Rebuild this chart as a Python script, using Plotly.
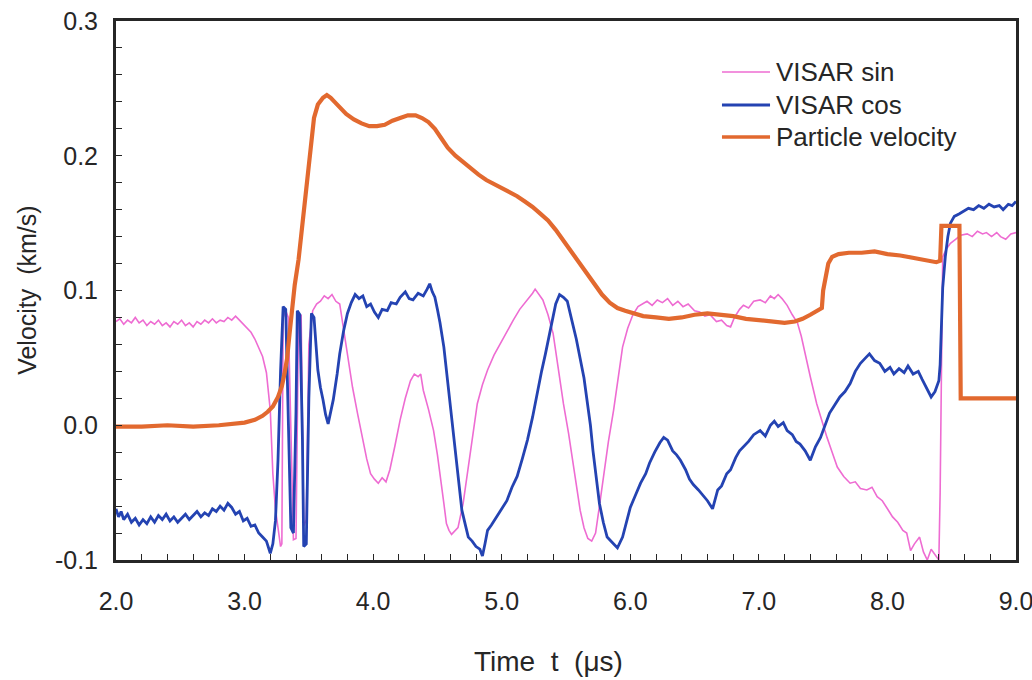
import plotly.graph_objects as go

# ---------------- data ----------------
sin_t = [2.00, 2.03, 2.06, 2.09, 2.12, 2.15, 2.18, 2.21, 2.24, 2.27, 2.30, 2.33, 2.36, 2.39, 2.42, 2.45,
         2.48, 2.51, 2.54, 2.57, 2.60, 2.63, 2.66, 2.69, 2.72, 2.75, 2.78, 2.81, 2.84, 2.87, 2.90, 2.93,
         2.96, 2.99, 3.02, 3.05, 3.08, 3.11, 3.14, 3.17, 3.20, 3.22, 3.24, 3.26, 3.28, 3.29, 3.30, 3.32,
         3.34, 3.38, 3.40, 3.42, 3.44, 3.46, 3.48, 3.50, 3.53, 3.56, 3.59, 3.62, 3.65, 3.68, 3.71, 3.74,
         3.76, 3.78, 3.81, 3.84, 3.88, 3.92, 3.95, 3.98, 4.01, 4.04, 4.07, 4.10, 4.13, 4.17, 4.21, 4.25,
         4.29, 4.32, 4.35, 4.37, 4.39, 4.43, 4.47, 4.50, 4.52, 4.55, 4.57, 4.59, 4.61, 4.64, 4.66, 4.70,
         4.73, 4.77, 4.81, 4.85, 4.89, 4.94, 4.99, 5.04, 5.09, 5.14, 5.20, 5.24, 5.26, 5.29, 5.32, 5.36,
         5.40, 5.44, 5.48, 5.52, 5.55, 5.58, 5.61, 5.64, 5.67, 5.70, 5.73, 5.76, 5.79, 5.83, 5.87, 5.91,
         5.94, 5.98, 6.02, 6.06, 6.10, 6.13, 6.17, 6.21, 6.25, 6.29, 6.33, 6.37, 6.41, 6.45, 6.50, 6.54,
         6.58, 6.62, 6.67, 6.71, 6.75, 6.78, 6.81, 6.85, 6.88, 6.92, 6.96, 7.01, 7.05, 7.09, 7.12, 7.15,
         7.18, 7.22, 7.26, 7.30, 7.33, 7.36, 7.40, 7.45, 7.49, 7.53, 7.57, 7.61, 7.66, 7.71, 7.75, 7.79,
         7.84, 7.88, 7.92, 7.96, 8.00, 8.04, 8.08, 8.12, 8.15, 8.18, 8.21, 8.25, 8.28, 8.31, 8.34, 8.37,
         8.40, 8.41, 8.42, 8.43, 8.46, 8.49, 8.53, 8.57, 8.62, 8.66, 8.70, 8.74, 8.77, 8.81, 8.85, 8.88,
         8.92, 8.96, 9.00]
sin_v = [0.077, 0.079, 0.075, 0.078, 0.076, 0.080, 0.076, 0.078, 0.074, 0.077, 0.075, 0.078, 0.074, 0.076, 0.073, 0.077,
         0.075, 0.078, 0.074, 0.076, 0.073, 0.077, 0.075, 0.078, 0.076, 0.079, 0.076, 0.078, 0.077, 0.080, 0.078, 0.081,
         0.078, 0.075, 0.072, 0.069, 0.064, 0.058, 0.051, 0.039, 0.011, -0.036, -0.062, -0.076, -0.090, -0.088, 0.080, 0.085,
         0.080, -0.085, -0.084, 0.080, 0.082, -0.075, -0.070, 0.060, 0.085, 0.090, 0.092, 0.096, 0.094, 0.097, 0.092, 0.090,
         0.078, 0.065, 0.046, 0.028, 0.008, -0.011, -0.025, -0.036, -0.040, -0.043, -0.039, -0.042, -0.033, -0.015, 0.004, 0.020,
         0.033, 0.038, 0.036, 0.038, 0.026, 0.012, -0.004, -0.022, -0.038, -0.058, -0.073, -0.078, -0.081, -0.078, -0.076, -0.058,
         -0.038, -0.010, 0.016, 0.030, 0.041, 0.052, 0.061, 0.070, 0.078, 0.086, 0.093, 0.098, 0.101, 0.097, 0.093, 0.082,
         0.068, 0.042, 0.016, -0.006, -0.024, -0.045, -0.063, -0.076, -0.084, -0.086, -0.080, -0.060, -0.038, -0.012, 0.011, 0.038,
         0.058, 0.072, 0.082, 0.088, 0.090, 0.092, 0.089, 0.093, 0.091, 0.094, 0.089, 0.092, 0.088, 0.090, 0.085, 0.084,
         0.081, 0.082, 0.077, 0.078, 0.074, 0.073, 0.080, 0.086, 0.089, 0.087, 0.092, 0.093, 0.091, 0.096, 0.094, 0.097,
         0.094, 0.089, 0.082, 0.076, 0.066, 0.052, 0.036, 0.016, 0.003, -0.009, -0.020, -0.031, -0.038, -0.043, -0.042, -0.047,
         -0.048, -0.046, -0.053, -0.056, -0.062, -0.068, -0.072, -0.078, -0.080, -0.093, -0.088, -0.083, -0.094, -0.100, -0.092, -0.096,
         -0.100, -0.050, 0.060, 0.125, 0.131, 0.135, 0.138, 0.141, 0.142, 0.140, 0.144, 0.142, 0.143, 0.140, 0.143, 0.140,
         0.138, 0.142, 0.143]

cos_t = [2.00, 2.02, 2.04, 2.06, 2.09, 2.12, 2.15, 2.18, 2.21, 2.24, 2.27, 2.30, 2.33, 2.36, 2.39, 2.42,
         2.45, 2.48, 2.51, 2.54, 2.57, 2.60, 2.63, 2.66, 2.69, 2.72, 2.75, 2.78, 2.81, 2.84, 2.87, 2.90,
         2.93, 2.96, 2.99, 3.02, 3.05, 3.08, 3.11, 3.14, 3.17, 3.20, 3.22, 3.24, 3.26, 3.28, 3.30, 3.32,
         3.34, 3.36, 3.38, 3.40, 3.41, 3.43, 3.45, 3.46, 3.48, 3.50, 3.52, 3.54, 3.57, 3.59, 3.61, 3.63,
         3.65, 3.67, 3.69, 3.72, 3.74, 3.77, 3.80, 3.83, 3.86, 3.89, 3.92, 3.95, 3.98, 4.01, 4.04, 4.07,
         4.11, 4.14, 4.18, 4.21, 4.25, 4.28, 4.31, 4.35, 4.39, 4.42, 4.44, 4.46, 4.48, 4.50, 4.52, 4.55,
         4.57, 4.59, 4.61, 4.63, 4.65, 4.67, 4.69, 4.72, 4.74, 4.77, 4.80, 4.83, 4.85, 4.87, 4.89, 4.92,
         4.96, 5.00, 5.04, 5.08, 5.12, 5.16, 5.20, 5.24, 5.27, 5.31, 5.34, 5.37, 5.39, 5.42, 5.45, 5.48,
         5.51, 5.53, 5.55, 5.58, 5.61, 5.64, 5.66, 5.69, 5.71, 5.74, 5.76, 5.79, 5.82, 5.86, 5.90, 5.94,
         5.97, 6.00, 6.04, 6.08, 6.12, 6.15, 6.19, 6.23, 6.26, 6.29, 6.33, 6.36, 6.39, 6.43, 6.46, 6.49,
         6.53, 6.57, 6.60, 6.64, 6.66, 6.68, 6.71, 6.75, 6.78, 6.82, 6.85, 6.88, 6.92, 6.96, 7.01, 7.05,
         7.09, 7.12, 7.15, 7.19, 7.22, 7.26, 7.29, 7.32, 7.36, 7.40, 7.44, 7.48, 7.52, 7.55, 7.59, 7.63,
         7.67, 7.71, 7.75, 7.79, 7.83, 7.86, 7.90, 7.94, 7.98, 8.02, 8.05, 8.09, 8.13, 8.16, 8.20, 8.24,
         8.27, 8.31, 8.34, 8.37, 8.40, 8.41, 8.42, 8.43, 8.45, 8.47, 8.49, 8.52, 8.56, 8.60, 8.63, 8.67,
         8.71, 8.75, 8.79, 8.83, 8.87, 8.90, 8.94, 8.97, 9.00]
cos_v = [-0.062, -0.068, -0.064, -0.070, -0.066, -0.072, -0.069, -0.074, -0.070, -0.073, -0.068, -0.072, -0.067, -0.070, -0.066, -0.071,
         -0.068, -0.072, -0.069, -0.066, -0.070, -0.067, -0.064, -0.068, -0.065, -0.067, -0.062, -0.064, -0.060, -0.063, -0.058, -0.061,
         -0.066, -0.064, -0.071, -0.069, -0.075, -0.074, -0.080, -0.083, -0.086, -0.095, -0.088, -0.071, -0.026, 0.040, 0.088, 0.086,
         0.010, -0.076, -0.080, 0.010, 0.085, 0.082, -0.010, -0.090, -0.088, 0.020, 0.083, 0.080, 0.041, 0.028, 0.019, 0.008,
         0.001, 0.010, 0.019, 0.038, 0.053, 0.070, 0.083, 0.091, 0.097, 0.094, 0.096, 0.088, 0.090, 0.084, 0.080, 0.086,
         0.085, 0.091, 0.090, 0.095, 0.099, 0.094, 0.093, 0.098, 0.096, 0.101, 0.105, 0.099, 0.095, 0.086, 0.076, 0.058,
         0.041, 0.025, 0.009, -0.010, -0.028, -0.046, -0.063, -0.075, -0.083, -0.086, -0.090, -0.092, -0.097, -0.088, -0.078, -0.074,
         -0.068, -0.062, -0.056, -0.046, -0.038, -0.025, -0.011, 0.006, 0.021, 0.040, 0.053, 0.068, 0.078, 0.090, 0.097, 0.095,
         0.092, 0.085, 0.076, 0.064, 0.050, 0.035, 0.021, 0.000, -0.019, -0.040, -0.058, -0.072, -0.083, -0.087, -0.091, -0.083,
         -0.072, -0.061, -0.052, -0.043, -0.036, -0.028, -0.020, -0.013, -0.009, -0.011, -0.019, -0.022, -0.026, -0.033, -0.040, -0.044,
         -0.048, -0.053, -0.056, -0.062, -0.055, -0.048, -0.045, -0.036, -0.033, -0.024, -0.019, -0.016, -0.012, -0.007, -0.004, -0.008,
         0.000, 0.003, -0.001, 0.002, -0.004, -0.007, -0.012, -0.014, -0.019, -0.026, -0.016, -0.009, 0.002, 0.009, 0.015, 0.021,
         0.025, 0.031, 0.040, 0.046, 0.050, 0.053, 0.048, 0.046, 0.040, 0.043, 0.038, 0.042, 0.039, 0.044, 0.038, 0.040,
         0.034, 0.027, 0.021, 0.025, 0.033, 0.045, 0.071, 0.102, 0.125, 0.140, 0.150, 0.155, 0.157, 0.159, 0.161, 0.160,
         0.163, 0.161, 0.164, 0.162, 0.163, 0.160, 0.164, 0.163, 0.166]

pv_t = [2.00, 2.20, 2.40, 2.60, 2.80, 2.90, 3.00, 3.08, 3.14, 3.18, 3.22, 3.26, 3.29, 3.31, 3.33, 3.35,
        3.37, 3.39, 3.42, 3.45, 3.48, 3.51, 3.54, 3.57, 3.61, 3.64, 3.67, 3.70, 3.74, 3.79, 3.85, 3.91,
        3.97, 4.03, 4.09, 4.15, 4.21, 4.27, 4.33, 4.38, 4.43, 4.48, 4.53, 4.58, 4.64, 4.70, 4.76, 4.82,
        4.88, 4.94, 5.00, 5.06, 5.12, 5.18, 5.24, 5.30, 5.36, 5.42, 5.48, 5.54, 5.60, 5.66, 5.72, 5.78,
        5.84, 5.90, 5.96, 6.02, 6.10, 6.20, 6.30, 6.40, 6.50, 6.60, 6.70, 6.80, 6.90, 7.00, 7.10, 7.20,
        7.28, 7.34, 7.40, 7.46, 7.49, 7.50, 7.52, 7.54, 7.57, 7.62, 7.70, 7.80, 7.90, 8.00, 8.10, 8.20,
        8.30, 8.38, 8.41, 8.42, 8.56, 8.57, 9.00]
pv_v = [-0.001, -0.001, 0.000, -0.001, 0.000, 0.001, 0.002, 0.004, 0.007, 0.010, 0.014, 0.021, 0.029, 0.038, 0.049, 0.068,
        0.088, 0.104, 0.123, 0.150, 0.180, 0.208, 0.228, 0.238, 0.243, 0.245, 0.243, 0.240, 0.236, 0.231, 0.227, 0.224,
        0.222, 0.222, 0.223, 0.226, 0.228, 0.230, 0.230, 0.228, 0.225, 0.220, 0.213, 0.206, 0.200, 0.195, 0.190, 0.186,
        0.182, 0.179, 0.176, 0.173, 0.170, 0.166, 0.162, 0.157, 0.152, 0.145, 0.137, 0.129, 0.120, 0.112, 0.104, 0.097,
        0.091, 0.087, 0.085, 0.083, 0.081, 0.080, 0.079, 0.080, 0.082, 0.083, 0.082, 0.081, 0.079, 0.078, 0.077, 0.076,
        0.077, 0.079, 0.082, 0.085, 0.087, 0.100, 0.112, 0.120, 0.125, 0.127, 0.128, 0.128, 0.129, 0.127, 0.126, 0.124,
        0.122, 0.121, 0.122, 0.148, 0.148, 0.020, 0.020]

series_names = ["VISAR sin", "VISAR cos", "Particle velocity"]
series_colors = ["#EE6CD2", "#2443B2", "#E2692F"]
series_widths = [1.6, 2.8, 4.2]
x_ticks = [2.0, 3.0, 4.0, 5.0, 6.0, 7.0, 8.0, 9.0]
x_tick_labels = ["2.0", "3.0", "4.0", "5.0", "6.0", "7.0", "8.0", "9.0"]
y_ticks = [-0.1, 0.0, 0.1, 0.2, 0.3]
y_tick_labels = ["-0.1", "0.0", "0.1", "0.2", "0.3"]

# ---------------- figure ----------------
FONT = "Liberation Sans, Arial, Helvetica, sans-serif"
INK = "#262626"

fig = go.Figure()
for t, v, nm, col, w in zip([sin_t, cos_t, pv_t], [sin_v, cos_v, pv_v],
                            series_names, series_colors, series_widths):
    fig.add_trace(go.Scatter(x=t, y=v, mode="lines", name=nm,
                             line=dict(color=col, width=w)))

# legend drawn as sample lines + text (to match the compact original legend)
shapes = []
annotations = []
leg_y = [0.9054, 0.8442, 0.7848]
for nm, col, w, yy in zip(series_names, series_colors, series_widths, leg_y):
    shapes.append(dict(type="line", xref="paper", yref="paper",
                       x0=0.6733, x1=0.7267, y0=yy, y1=yy,
                       line=dict(color=col, width=min(w, 3.6))))
    annotations.append(dict(text=nm, xref="paper", yref="paper", x=0.7311, y=yy,
                            xanchor="left", yanchor="middle", showarrow=False,
                            font=dict(size=26, color=INK)))

annotations += [
    dict(text="Time\u00a0\u00a0t\u00a0\u00a0(\u03bcs)", xref="paper", yref="paper",
         x=0.481, y=-0.189, xanchor="center", yanchor="middle", showarrow=False,
         font=dict(size=28, color=INK)),
    dict(text="Velocity\u00a0\u00a0(km/s)", xref="paper", yref="paper",
         x=-0.099, y=0.501, xanchor="center", yanchor="middle", showarrow=False,
         textangle=-90, font=dict(size=25, color=INK)),
]

fig.update_layout(
    width=1032, height=680,
    margin=dict(l=116, r=16, t=21, b=120, autoexpand=False),
    paper_bgcolor="white", plot_bgcolor="white",
    font=dict(family=FONT, color=INK, size=25),
    showlegend=False,
    xaxis=dict(range=[2, 9], tickvals=x_ticks, ticktext=x_tick_labels,
               ticks="inside", ticklen=6, tickwidth=1.2, tickcolor=INK,
               minor=dict(dtick=0.2, ticks="inside", ticklen=6, tickwidth=1.2, tickcolor=INK),
               showline=True, linewidth=3, linecolor=INK, mirror=True,
               showgrid=False, zeroline=False, ticklabelstandoff=17, automargin=False,
               ticklabeloverflow="allow", tickfont=dict(size=25)),
    yaxis=dict(range=[-0.1, 0.3], tickvals=y_ticks, ticktext=y_tick_labels,
               ticks="inside", ticklen=6, tickwidth=1.2, tickcolor=INK,
               minor=dict(dtick=0.02, ticks="inside", ticklen=6, tickwidth=1.2, tickcolor=INK),
               showline=True, linewidth=3, linecolor=INK, mirror=True,
               showgrid=False, zeroline=False, ticklabelstandoff=10, automargin=False,
               ticklabeloverflow="allow", tickfont=dict(size=25)),
    shapes=shapes,
    annotations=annotations,
)

fig.write_html("out.html")
